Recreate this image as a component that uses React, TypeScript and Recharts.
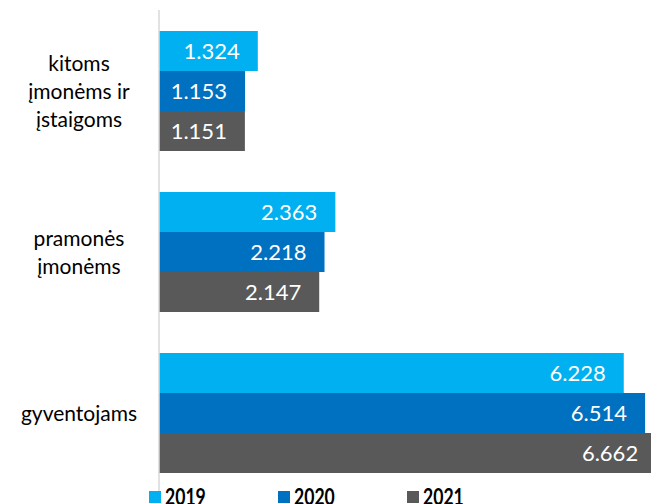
import React from 'react';
import { BarChart, Bar, XAxis, YAxis, LabelList, Legend } from 'recharts';

const categories = ['kitoms įmonėms ir įstaigoms', 'pramonės įmonėms', 'gyventojams'];
const categoryLines: Record<string, string[]> = {
  'kitoms įmonėms ir įstaigoms': ['kitoms', 'įmonėms ir', 'įstaigoms'],
  'pramonės įmonėms': ['pramonės', 'įmonėms'],
  gyventojams: ['gyventojams'],
};
const years = ['2019', '2020', '2021'];
const values2019 = [1.324, 2.363, 6.228];
const values2020 = [1.153, 2.218, 6.514];
const values2021 = [1.151, 2.147, 6.662];
const colors = ['#00B0F0', '#0070C0', '#595959'];

const data = categories.map((name, i) => ({
  name,
  '2019': values2019[i],
  '2020': values2020[i],
  '2021': values2021[i],
}));

const fmt = (v: any) => Number(v).toFixed(3);

const CategoryTick = (props: any) => {
  const { x, y, payload } = props;
  const lines = categoryLines[payload.value] || [payload.value];
  const step = 28;
  const first = 8 - ((lines.length - 1) * step) / 2;
  return (
    <text x={x - 80} y={y} textAnchor="middle" fill="#000" fontSize={21} fontFamily="Lato, sans-serif">
      {lines.map((l, i) => (
        <tspan key={i} x={x - 80} y={y + first + i * step}>
          {l}
        </tspan>
      ))}
    </text>
  );
};

// legend box has zero height so it does not shrink the plot area
const LegendContent = (props: any) => {
  const items = props.payload || [];
  return (
    <div style={{ position: 'relative', height: 0 }}>
      {items.map((it: any, i: number) => (
        <div
          key={i}
          style={{
            position: 'absolute',
            left: 149 + i * 129,
            top: 0,
            display: 'flex',
            alignItems: 'center',
            whiteSpace: 'nowrap',
            fontFamily: 'Lato, sans-serif',
            fontWeight: 700,
            fontSize: 22,
            color: '#000',
            lineHeight: '22px',
          }}
        >
          <span style={{ display: 'inline-block', width: 12, height: 12, background: it.color, marginRight: 4 }} />
          <span style={{ display: 'inline-block', transform: 'scaleX(0.8)', transformOrigin: 'left center' }}>
            {it.value}
          </span>
        </div>
      ))}
    </div>
  );
};

export default function App() {
  return (
    <div style={{ position: 'absolute', left: 0, top: 0, width: 651, height: 504, overflow: 'hidden', background: '#fff' }}>
      <BarChart
        width={756}
        height={504}
        data={data}
        layout="vertical"
        margin={{ top: 10, right: 0, bottom: 11, left: 0 }}
        barGap={0}
      >
        <XAxis type="number" domain={[0, 8]} hide />
        <YAxis
          type="category"
          dataKey="name"
          width={159}
          tickLine={false}
          tickSize={0}
          tickMargin={0}
          axisLine={{ stroke: '#D9D9D9', strokeWidth: 1.5 }}
          tick={<CategoryTick />}
        />
        <Legend
          content={<LegendContent />}
          wrapperStyle={{ position: 'absolute', left: 0, top: 486, width: 651, height: 0 }}
        />
        {years.map((y, i) => (
          <Bar key={y} dataKey={y} name={y} fill={colors[i]} barSize={40} isAnimationActive={false}>
            <LabelList
              dataKey={y}
              position="insideRight"
              offset={18}
              formatter={fmt}
              fill="#FFFFFF"
              fontSize={22}
              fontFamily="Lato, sans-serif"
            />
          </Bar>
        ))}
      </BarChart>
    </div>
  );
}
